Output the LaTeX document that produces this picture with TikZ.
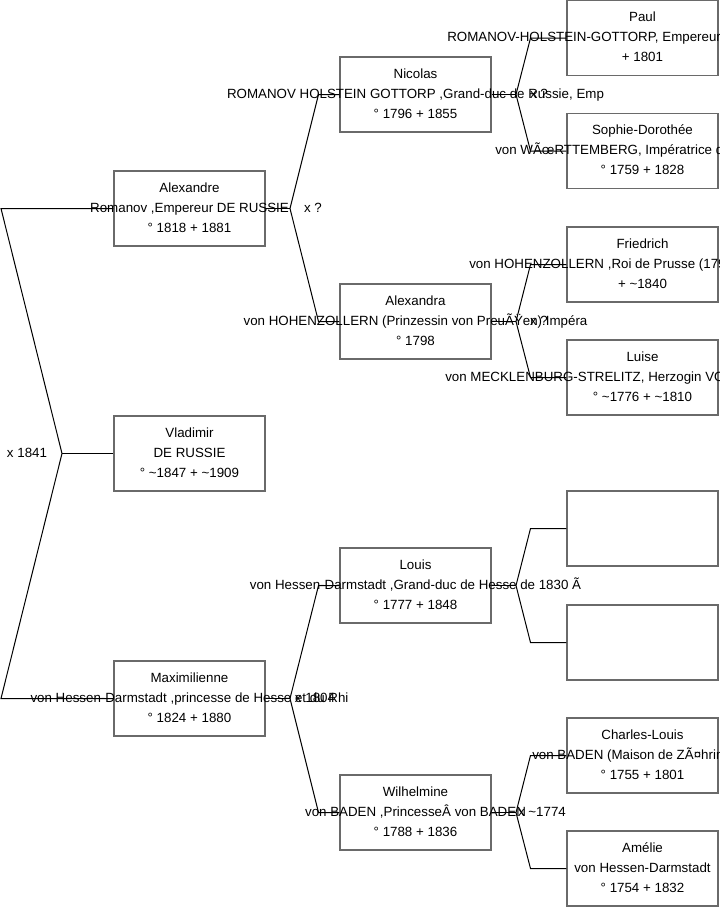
\documentclass[tikz,border=0pt]{standalone}
\usepackage{fontspec}
\setmainfont{Liberation Sans}
\definecolor{boxgray}{HTML}{6A6A6A}
\tikzset{
  pbox/.style={draw=boxgray, line width=0.9pt, fill=white, minimum width=113.25pt, minimum height=56.25pt, inner sep=0pt},
  ptext/.style={anchor=base, inner sep=0pt, font=\fontsize{10}{12}\selectfont},
  pwest/.style={anchor=base west, inner sep=0pt, font=\fontsize{10}{12}\selectfont},
  conn/.style={draw=black, line width=0.75pt},
  mlabel/.style={anchor=base, inner sep=0pt, font=\fontsize{10}{12}\selectfont}
}
% id, cx, cy, first line, second line, third line
\newcommand{\personC}[6]{%
  \node[pbox] (#1) at (#2,#3) {};
  \node[ptext] (#1-a) at (#2,{#3-16.5}) {#4};
  \node[ptext] (#1-b) at (#2,{#3+3.5}) {#5};
  \node[ptext] (#1-c) at (#2,{#3+23.5}) {#6};
}
% id, cx, cy, first line, second line (starting at x = #7), third line
\newcommand{\personW}[7]{%
  \node[pbox] (#1) at (#2,#3) {};
  \node[ptext] (#1-a) at (#2,{#3-16.5}) {#4};
  \node[pwest] (#1-b) at (#7,{#3+3.5}) {#5};
  \node[ptext] (#1-c) at (#2,{#3+23.5}) {#6};
}
\begin{document}
\begin{tikzpicture}[x=0.75pt,y=-0.75pt]
\useasboundingbox (0,0) rectangle (719,908);
\clip (0,0) rectangle (719,908);
\fill[white] (0,0) rectangle (719,908);

% generation 1
\personC{alex}{189.5}{208.5}{Alexandre}{Romanov ,Empereur DE RUSSIE}{° 1818 + 1881}
\personC{vlad}{189.5}{453.5}{Vladimir}{DE RUSSIE}{° \textasciitilde1847 + \textasciitilde1909}
\personC{maxi}{189.5}{698.5}{Maximilienne}{von Hessen-Darmstadt ,princesse de Hesse et du Rhi}{° 1824 + 1880}

% generation 2
\personC{nico}{415.5}{94.5}{Nicolas}{ROMANOV HOLSTEIN GOTTORP ,Grand-duc de Russie, Emp}{° 1796 + 1855}
\personC{alexa}{415.5}{321.5}{Alexandra}{von HOHENZOLLERN (Prinzessin von PreuÃŸen) Impéra}{° 1798}
\personC{louis}{415.5}{585.5}{Louis}{von Hessen-Darmstadt ,Grand-duc de Hesse de 1830 Ã}{° 1777 + 1848}
\personC{wilh}{415.5}{812.5}{Wilhelmine}{von BADEN ,PrincesseÂ von BADEN}{° 1788 + 1836}

% generation 3
\personW{paul}{642.5}{38}{Paul}{ROMANOV-HOLSTEIN-GOTTORP, Empereur de Russie (1796}{+ 1801}{447}
\personW{sophie}{642.5}{151}{Sophie-Dorothée}{von WÃœRTTEMBERG, Impératrice de Russie}{° 1759 + 1828}{495}
\personW{fried}{642.5}{264.5}{Friedrich}{von HOHENZOLLERN ,Roi de Prusse (1797-1840)}{+ \textasciitilde1840}{469}
\personW{luise}{642.5}{377.5}{Luise}{von MECKLENBURG-STRELITZ, Herzogin VON MECKLENBURG}{° \textasciitilde1776 + \textasciitilde1810}{445}
\node[pbox] (empA) at (642.5,528.5) {};
\node[pbox] (empB) at (642.5,642.5) {};
\personW{charl}{642.5}{755.5}{Charles-Louis}{von BADEN (Maison de ZÃ¤hringen)}{° 1755 + 1801}{532}
\personC{amel}{642.5}{868.5}{Amélie}{von Hessen-Darmstadt}{° 1754 + 1832}

% bracket points
\coordinate (v0) at (62,453.5);
\coordinate (v0a) at (1,208.5);
\coordinate (v0b) at (1,698.5);
\coordinate (vA) at (290,208.5);
\coordinate (vAa) at (318.5,94.5);
\coordinate (vAb) at (318.5,321.5);
\coordinate (vM) at (290,698.5);
\coordinate (vMa) at (318.5,585.5);
\coordinate (vMb) at (318.5,812.5);
\coordinate (vN) at (516,94.5);
\coordinate (vNa) at (530.5,38);
\coordinate (vNb) at (530.5,151);
\coordinate (vX) at (516,321.5);
\coordinate (vXa) at (530.5,264.5);
\coordinate (vXb) at (530.5,377.5);
\coordinate (vL) at (516,585.5);
\coordinate (vLa) at (530.5,528.5);
\coordinate (vLb) at (530.5,642.5);
\coordinate (vW) at (516,812.5);
\coordinate (vWa) at (530.5,755.5);
\coordinate (vWb) at (530.5,868.5);

% connectors
\draw[conn] (alex.west) -- (v0a) -- (v0) -- (v0b) -- (maxi.west);
\draw[conn] (v0) -- (vlad.west);
\draw[conn] (alex.east) -- (vA);
\draw[conn] (nico.west) -- (vAa) -- (vA) -- (vAb) -- (alexa.west);
\draw[conn] (maxi.east) -- (vM);
\draw[conn] (louis.west) -- (vMa) -- (vM) -- (vMb) -- (wilh.west);
\draw[conn] (nico.east) -- (vN);
\draw[conn] (paul.west) -- (vNa) -- (vN) -- (vNb) -- (sophie.west);
\draw[conn] (alexa.east) -- (vX);
\draw[conn] (fried.west) -- (vXa) -- (vX) -- (vXb) -- (luise.west);
\draw[conn] (louis.east) -- (vL);
\draw[conn] (empA.west) -- (vLa) -- (vL) -- (vLb) -- (empB.west);
\draw[conn] (wilh.east) -- (vW);
\draw[conn] (charl.west) -- (vWa) -- (vW) -- (vWb) -- (amel.west);

% marriage labels
\node[mlabel] (m0) at (27,457.5) {x 1841};
\node[mlabel] (mA) at (313,212.5) {x ?};
\node[mlabel] (mM) at (315,702.5) {x 1804};
\node[mlabel] (mN) at (539,98.5) {x ?};
\node[mlabel] (mX) at (539,325.5) {x ?};
\node[mlabel] (mW) at (542,816.5) {x \textasciitilde1774};
\end{tikzpicture}
\end{document}
